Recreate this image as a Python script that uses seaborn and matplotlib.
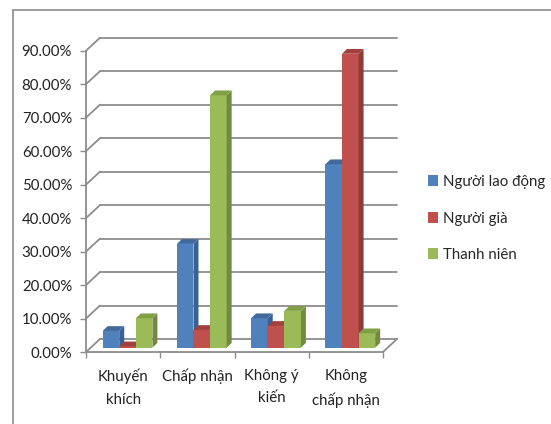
import numpy as np
import pandas as pd
import matplotlib
matplotlib.use("Agg")
import matplotlib.pyplot as plt
import seaborn as sns
from matplotlib.patches import Polygon, Patch
from matplotlib.lines import Line2D
from matplotlib.ticker import PercentFormatter
import matplotlib.colors as mcolors

# --- data -------------------------------------------------------------
categories = ["Khuyến\nkhích", "Chấp nhận", "Không ý\nkiến", "Không\nchấp nhận"]
series = ["Người lao động", "Người già", "Thanh niên"]
nguoi_lao_dong = [0.050, 0.310, 0.088, 0.548]
nguoi_gia = [0.004, 0.053, 0.065, 0.878]
thanh_nien = [0.088, 0.754, 0.110, 0.043]
y_ticks = [0.0, 0.1, 0.2, 0.3, 0.4, 0.5, 0.6, 0.7, 0.8, 0.9]

front_colors = ["#4F81BD", "#C0504D", "#9BBB59"]
side_colors = ["#3A6194", "#8E3A38", "#728A40"]
top_colors = ["#41699C", "#A0413E", "#80A046"]
grid_color = "#8C8C8C"

df = pd.DataFrame({
    "cat": np.repeat(categories, 3),
    "grp": series * len(categories),
    "val": np.ravel(np.column_stack([nguoi_lao_dong, nguoi_gia, thanh_nien])),
})

sns.set_style("white")
plt.rcParams["font.family"] = ["Lato", "Noto Sans", "DejaVu Sans"]

W, H = 551, 424
fig = plt.figure(figsize=(W / 100, H / 100), dpi=100)

# axes = front plane of the 3D box
ax_l, ax_r, ax_b, ax_t = 86, 383, 352, 50.7
ax = fig.add_axes([ax_l / W, (H - ax_b) / H, (ax_r - ax_l) / W, (ax_b - ax_t) / H])
ax.set_xlim(-0.5, 3.5)
ax.set_ylim(0, 0.9)
ax.patch.set_alpha(0)

px_x = (ax_r - ax_l) / 4.0          # pixels per category unit
px_y = (ax_b - ax_t) / 0.9          # pixels per value unit
depth_dx, depth_dy = 14 / px_x, 13 / px_y        # full depth of the box
bar_ox, bar_oy = 4.4 / px_x, 4.3 / px_y          # bar front-face inset
bar_dx, bar_dy = 5.0 / px_x, 4.8 / px_y          # bar depth

sns.barplot(data=df, x="cat", y="val", hue="grp", order=categories,
            hue_order=series, palette=front_colors, saturation=1,
            width=0.67, legend=False, ax=ax, linewidth=0)

# back wall gridlines and left wall slants
for v in y_ticks:
    ax.plot([-0.5 + depth_dx, 3.5 + depth_dx], [v + depth_dy, v + depth_dy],
            color=grid_color, lw=1.3, zorder=0.5, clip_on=False)
    ax.plot([-0.5, -0.5 + depth_dx], [v, v + depth_dy],
            color=grid_color, lw=1.3, zorder=0.5, clip_on=False)
# floor right edge
ax.plot([3.5, 3.5 + depth_dx], [0, depth_dy], color=grid_color, lw=1.3,
        zorder=0.5, clip_on=False)

# 3D faces for every bar
front_rgb = [np.array(mcolors.to_rgb(c)) for c in front_colors]
bars = sorted(ax.patches, key=lambda p: p.get_x())
for i, p in enumerate(bars):
    fc = np.array(p.get_facecolor()[:3])
    k = int(np.argmin([np.sum((fc - c) ** 2) for c in front_rgb]))
    x, w, h = p.get_x(), p.get_width(), p.get_height()
    x0, y0 = x + bar_ox, bar_oy
    p.set_x(x0)
    p.set_y(y0)
    p.set_zorder(3 + i * 3)
    p.set_clip_on(False)
    side = Polygon([(x0 + w, y0), (x0 + w + bar_dx, y0 + bar_dy),
                    (x0 + w + bar_dx, y0 + h + bar_dy), (x0 + w, y0 + h)],
                   closed=True, facecolor=side_colors[k], edgecolor="none",
                   zorder=4 + i * 3, clip_on=False)
    top = Polygon([(x0, y0 + h), (x0 + w, y0 + h),
                   (x0 + w + bar_dx, y0 + h + bar_dy), (x0 + bar_dx, y0 + h + bar_dy)],
                  closed=True, facecolor=top_colors[k], edgecolor="none",
                  zorder=5 + i * 3, clip_on=False)
    ax.add_patch(side)
    ax.add_patch(top)

# axes styling
for s in ["top", "right"]:
    ax.spines[s].set_visible(False)
for s in ["left", "bottom"]:
    ax.spines[s].set_color(grid_color)
    ax.spines[s].set_linewidth(1.3)
    ax.spines[s].set_zorder(1)

ax.set_yticks(y_ticks)
ax.yaxis.set_major_formatter(PercentFormatter(xmax=1, decimals=2))
ax.tick_params(axis="y", direction="out", length=4, width=1, color=grid_color,
               labelsize=10.8, labelcolor="#222222", pad=6, left=True)

ax.set_xticks([-0.5, 0.5, 1.5, 2.5, 3.5])
ax.set_xticklabels([])
ax.set_xticks([0, 1, 2, 3], minor=True)
ax.set_xticklabels(categories, minor=True, fontsize=10.8, color="#222222",
                   linespacing=1.8, va="top")
ax.tick_params(axis="x", which="major", direction="out", length=4.5, width=1,
               color=grid_color, bottom=True)
ax.tick_params(axis="x", which="minor", length=0, pad=12)
ax.set_xlabel("")
ax.set_ylabel("")

# legend
handles = [Patch(facecolor=c, edgecolor="none") for c in front_colors]
fig.legend(handles, series, loc="center left",
           bbox_to_anchor=(420 / W, (H - 218.5) / H), frameon=False,
           fontsize=10.8, handlelength=0.72, handleheight=0.72,
           handletextpad=0.3, labelspacing=1.5, borderpad=0)

# chart area border
fig.add_artist(Line2D([13 / W, 1.0], [(H - 10) / H, (H - 10) / H],
                      transform=fig.transFigure, color=grid_color, lw=1.2))
fig.add_artist(Line2D([13 / W, 13 / W], [0, (H - 10) / H],
                      transform=fig.transFigure, color=grid_color, lw=1.2))

fig.savefig("out.png", dpi=100)
